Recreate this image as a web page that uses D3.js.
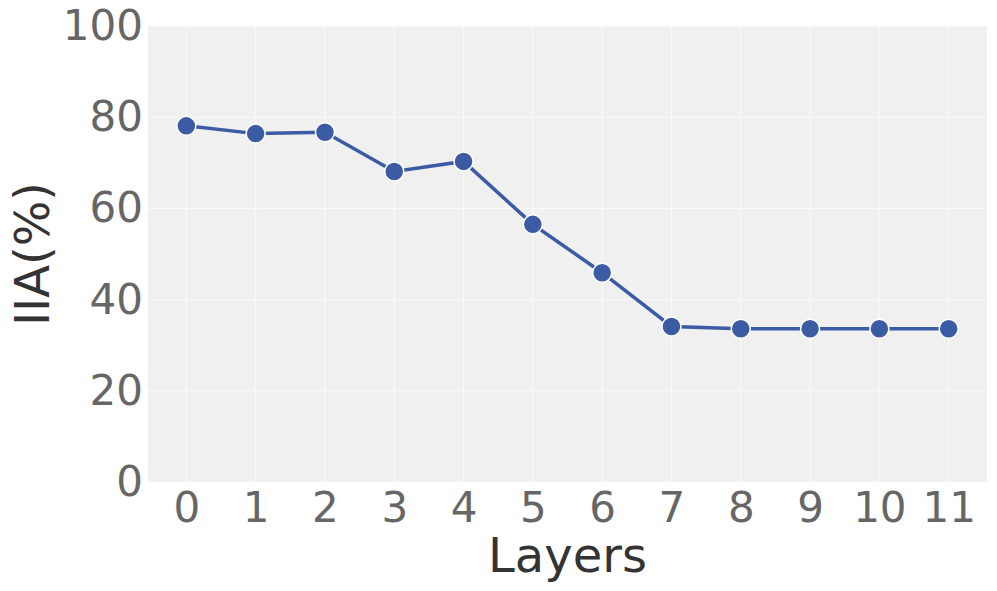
<!DOCTYPE html>
<html>
<head>
<meta charset="utf-8">
<script src="https://cdn.jsdelivr.net/npm/d3@7"></script>
<style>
  body { margin: 0; background: #fff; }
  svg { display: block; font-family: "DejaVu Sans", sans-serif; }
</style>
</head>
<body>
<div id="container"></div>
<script>
// data
const layers = [0, 1, 2, 3, 4, 5, 6, 7, 8, 9, 10, 11];
const iia = [78.1, 76.4, 76.7, 68.1, 70.3, 56.5, 45.9, 34.1, 33.6, 33.6, 33.6, 33.6];
const yTicks = [0, 20, 40, 60, 80, 100];

const width = 997;
const height = 591;
const margin = {top: 26, right: 10, bottom: 109, left: 148};

const svg = d3.select("#container")
    .append("svg")
    .attr("width", width)
    .attr("height", height);

const xScale = d3.scaleLinear()
    .domain([-0.553, 11.553])
    .range([margin.left, width - margin.right]);

const yScale = d3.scaleLinear()
    .domain([0, 100])
    .range([height - margin.bottom, margin.top]);

// background
svg.append("rect")
    .attr("x", margin.left)
    .attr("y", margin.top)
    .attr("width", width - margin.left - margin.right)
    .attr("height", height - margin.top - margin.bottom)
    .attr("fill", "#f0f0f0");

// grid lines
svg.append("g").selectAll("line")
    .data(yTicks)
    .enter()
    .append("line")
    .attr("x1", margin.left)
    .attr("x2", width - margin.right)
    .attr("y1", d => yScale(d))
    .attr("y2", d => yScale(d))
    .attr("stroke", "#fafafa")
    .attr("stroke-width", 1);

svg.append("g").selectAll("line")
    .data(layers)
    .enter()
    .append("line")
    .attr("x1", d => xScale(d))
    .attr("x2", d => xScale(d))
    .attr("y1", margin.top)
    .attr("y2", height - margin.bottom)
    .attr("stroke", "#fafafa")
    .attr("stroke-width", 1);

// axes
const xAxis = d3.axisBottom(xScale).tickValues(layers).tickSize(0).tickPadding(10);
const gx = svg.append("g")
    .attr("transform", `translate(0, ${height - margin.bottom})`)
    .call(xAxis);
gx.select(".domain").remove();
gx.selectAll("text")
    .attr("font-size", 42)
    .attr("font-family", "DejaVu Sans")
    .attr("fill", "#666");

const yAxis = d3.axisLeft(yScale).tickValues(yTicks).tickSize(0).tickPadding(5);
const gy = svg.append("g")
    .attr("transform", `translate(${margin.left}, 0)`)
    .call(yAxis);
gy.select(".domain").remove();
gy.selectAll("text")
    .attr("font-size", 42)
    .attr("font-family", "DejaVu Sans")
    .attr("fill", "#666");

// line
const line = d3.line()
    .x((d, i) => xScale(layers[i]))
    .y(d => yScale(d));

svg.append("path")
    .datum(iia)
    .attr("d", line)
    .attr("fill", "none")
    .attr("stroke", "#3b5ba5")
    .attr("stroke-width", 3.5);

svg.append("g").selectAll("circle")
    .data(iia)
    .enter()
    .append("circle")
    .attr("cx", (d, i) => xScale(layers[i]))
    .attr("cy", d => yScale(d))
    .attr("r", 9.5)
    .attr("fill", "#3b5ba5")
    .attr("stroke", "#fff")
    .attr("stroke-width", 1.5);

// axis labels
svg.append("text")
    .attr("x", (margin.left + width - margin.right) / 2)
    .attr("y", 572)
    .attr("text-anchor", "middle")
    .attr("font-size", 48)
    .attr("fill", "#333")
    .text("Layers");

svg.append("text")
    .attr("transform", `translate(49, ${(margin.top + height - margin.bottom) / 2}) rotate(-90)`)
    .attr("text-anchor", "middle")
    .attr("font-size", 48)
    .attr("fill", "#333")
    .text("IIA(%)");
</script>
</body>
</html>
